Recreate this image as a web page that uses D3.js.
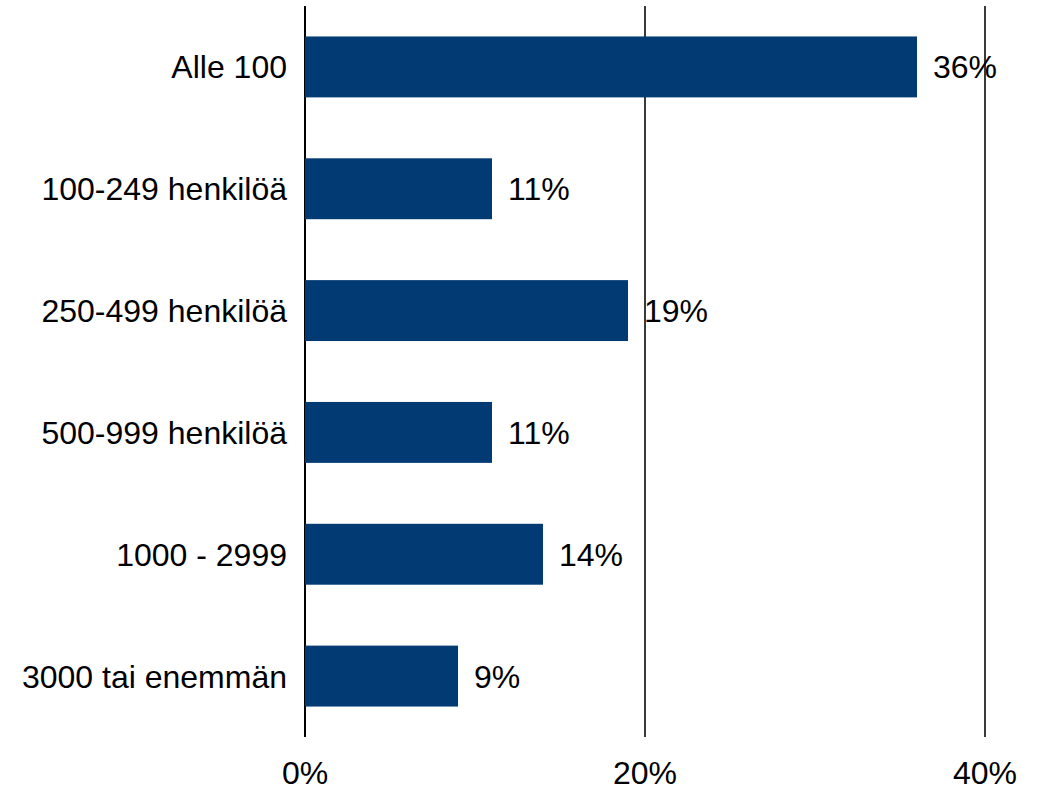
<!DOCTYPE html>
<html>
<head>
<meta charset="utf-8">
<script src="https://cdn.jsdelivr.net/npm/d3@7"></script>
<style>
  html, body { margin: 0; padding: 0; background: #fff; }
  svg { display: block; font-family: "Liberation Sans", Arial, sans-serif; }
</style>
</head>
<body>
<div id="chart"></div>
<script>
const categories = ["Alle 100", "100-249 henkilöä", "250-499 henkilöä", "500-999 henkilöä", "1000 - 2999", "3000 tai enemmän"];
const values = [36, 11, 19, 11, 14, 9];
const tickValues = [0, 20, 40];

const BAR_COLOR = "#023a74";
const width = 1041;
const height = 790;
const margin = { top: 6, right: 56, bottom: 53, left: 305 };

const innerW = width - margin.left - margin.right;
const innerH = height - margin.top - margin.bottom;

const svg = d3.select("#chart").append("svg")
  .attr("width", width)
  .attr("height", height);

const g = svg.append("g")
  .attr("transform", `translate(${margin.left},${margin.top})`);

const x = d3.scaleLinear().domain([0, 40]).range([0, 680]);
const y = d3.scaleBand()
  .domain(categories)
  .range([0, innerH])
  .paddingInner(0.5)
  .paddingOuter(0.25);

// gridlines (0% axis line is black, the rest grey)
g.selectAll("line.grid")
  .data(tickValues)
  .join("line")
  .attr("class", "grid")
  .attr("x1", d => x(d))
  .attr("x2", d => x(d))
  .attr("y1", 0)
  .attr("y2", innerH)
  .attr("stroke", d => d === 0 ? "#000" : "#3a3a3a")
  .attr("stroke-width", 1.2)
  .attr("shape-rendering", "crispEdges");

// tick labels
g.selectAll("text.tick")
  .data(tickValues)
  .join("text")
  .attr("class", "tick")
  .attr("x", d => x(d))
  .attr("y", innerH + 47)
  .attr("text-anchor", "middle")
  .style("font-size", "32px")
  .style("fill", "#000")
  .text(d => d + "%");

const rows = categories.map((c, i) => ({ cat: c, val: values[i] }));

// bars
g.selectAll("rect.bar")
  .data(rows)
  .join("rect")
  .attr("class", "bar")
  .attr("x", 0)
  .attr("y", d => y(d.cat))
  .attr("width", d => x(d.val))
  .attr("height", y.bandwidth())
  .attr("fill", BAR_COLOR);

// category labels
g.selectAll("text.cat")
  .data(rows)
  .join("text")
  .attr("class", "cat")
  .attr("x", -18)
  .attr("y", d => y(d.cat) + y.bandwidth() / 2 + 11.5)
  .attr("text-anchor", "end")
  .style("font-size", "32px")
  .style("fill", "#000")
  .text(d => d.cat);

// value labels
g.selectAll("text.val")
  .data(rows)
  .join("text")
  .attr("class", "val")
  .attr("x", d => x(d.val) + 16)
  .attr("y", d => y(d.cat) + y.bandwidth() / 2 + 11.5)
  .style("font-size", "32px")
  .style("fill", "#000")
  .text(d => d.val + "%");
</script>
</body>
</html>
